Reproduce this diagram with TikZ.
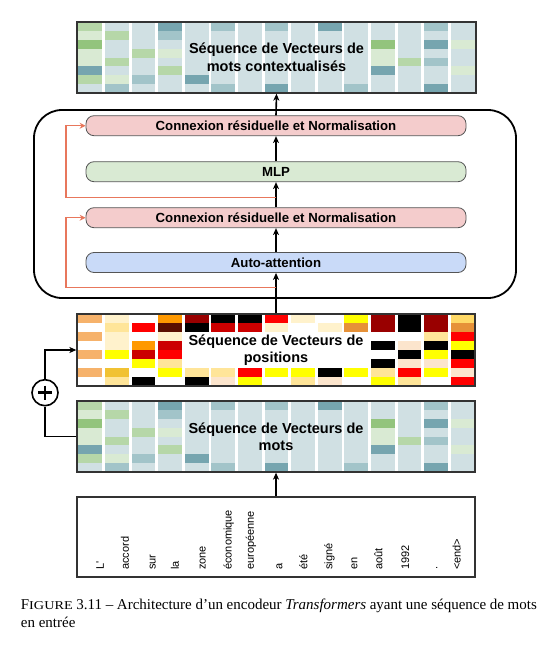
\documentclass[tikz,border=0pt]{standalone}
\usepackage{fontspec}
\setmainfont{Liberation Serif}
\newfontfamily\diagfont{Liberation Sans}
\usetikzlibrary{arrows.meta,calc}
\definecolor{cB}{HTML}{D0E0E3}
\definecolor{cLG}{HTML}{D9EAD3}
\definecolor{cG}{HTML}{B6D7A8}
\definecolor{cDG}{HTML}{93C47D}
\definecolor{cT}{HTML}{76A5AF}
\definecolor{cLT}{HTML}{A2C4C9}
\definecolor{pO}{HTML}{F6B26B}
\definecolor{pLY}{HTML}{FFF2CC}
\definecolor{pPY}{HTML}{FFE599}
\definecolor{pGO}{HTML}{FFD966}
\definecolor{pGY}{HTML}{F1C232}
\definecolor{pY}{HTML}{FFFF00}
\definecolor{pR}{HTML}{FF0000}
\definecolor{pDR}{HTML}{CC0000}
\definecolor{pMR}{HTML}{990000}
\definecolor{pBR}{HTML}{5B0F00}
\definecolor{pOR}{HTML}{FF9900}
\definecolor{pDO}{HTML}{E69138}
\definecolor{pPE}{HTML}{FCE5CD}
\definecolor{pK}{HTML}{000000}
\definecolor{pW}{HTML}{FFFFFF}
\definecolor{cRes}{HTML}{E8775C}
\definecolor{cPink}{HTML}{F4CCCC}
\definecolor{cMint}{HTML}{D9EAD3}
\definecolor{cBlue}{HTML}{C9DAF8}
\definecolor{cGray}{HTML}{555555}
\definecolor{cDark}{HTML}{333333}
\newcommand{\mycells}[3]{%
  \foreach \colspec [count=\i] in #3 {
    \foreach \cc [count=\r] in \colspec {
      \fill[\cc] ({78.3+26.6*(\i-1)}, {#1+(\r-1)*(#2-#1)/8}) rectangle ++(23.8, {(#2-#1)/8+0.2});
    }
  }%
}
\newcommand{\wordpattern}{%
  {cG,cLG,cDG,cLG,cLG,cT,cG,cB},
  {cB,cG,cB,cB,cG,cB,cLG,cLT},
  {cB,cB,cB,cG,cB,cB,cLT,cB},
  {cT,cLT,cB,cLG,cB,cG,cB,cB},
  {cB,cB,cB,cB,cB,cB,cT,cB},
  {cLT,cB,cB,cB,cB,cB,cB,cLT},
  {cB,cB,cB,cB,cB,cB,cB,cB},
  {cLT,cB,cB,cB,cB,cB,cB,cT},
  {cB,cB,cB,cB,cB,cB,cB,cB},
  {cT,cB,cB,cB,cB,cB,cB,cB},
  {cB,cB,cB,cB,cB,cB,cB,cLT},
  {cB,cB,cDG,cLG,cLG,cT,cB,cB},
  {cB,cB,cB,cB,cG,cB,cB,cB},
  {cLT,cB,cT,cB,cLT,cB,cB,cT},
  {cB,cB,cLG,cB,cB,cLG,cB,cB}}
\newcommand{\pospattern}{%
  {pO,pW,pO,pW,pO,pW,pO,pW},
  {pLY,pPY,pLY,pLY,pY,pW,pGY,pPY},
  {pW,pR,pW,pOR,pDR,pY,pW,pK},
  {pOR,pBR,pLY,pDR,pR,pPY,pY,pW},
  {pMR,pK,pW,pW,pW,pW,pPY,pK},
  {pK,pDR,pW,pW,pW,pW,pPY,pPE},
  {pK,pDR,pW,pW,pW,pW,pR,pY},
  {pR,pLY,pW,pW,pW,pW,pY,pW},
  {pLY,pW,pW,pW,pW,pW,pY,pPY},
  {pW,pLY,pW,pW,pW,pW,pK,pPE},
  {pY,pDO,pW,pW,pW,pW,pY,pW},
  {pMR,pMR,pW,pK,pW,pK,pPY,pY},
  {pK,pK,pW,pPE,pK,pPE,pR,pPY},
  {pMR,pMR,pPY,pK,pY,pPE,pY,pW},
  {pGO,pDO,pR,pY,pK,pR,pPE,pR}}
\begin{document}
\begin{tikzpicture}[x=1pt,y=-1pt,
  arr/.style={line width=1.6pt,-{Stealth[length=7pt,width=6pt,inset=2pt]}},
  res/.style={draw=cRes,line width=1.5pt,-{Stealth[length=6pt,width=6pt,inset=2pt]}},
  link/.style={line width=1.6pt},
  layer/.style={draw=cGray,line width=0.8pt,rounded corners=8pt,minimum width=380pt,
    minimum height=20pt,inner sep=0pt,font=\diagfont\bfseries\fontsize{13.2}{15}\selectfont},
  seqbox/.style={draw=cDark,line width=1.3pt,inner sep=0pt,align=center,
    font=\diagfont\bfseries\fontsize{14.5}{17.5}\selectfont},
  word/.style={inner sep=0pt,rotate=90,anchor=mid west,font=\diagfont\fontsize{11}{12}\selectfont},
  captxt/.style={inner sep=0pt,anchor=base west,font=\fontsize{15}{17}\selectfont}]
\useasboundingbox (0,0) rectangle (549,645);
\fill[white] (0,0) rectangle (549,645);
% contextual vectors
\foreach \i in {1,...,15} {\fill[cB] ({78.3+26.6*(\i-1)},22) rectangle ++(23.8,71);}
\mycells{22}{93}\wordpattern
\node[seqbox,minimum width=399pt,minimum height=71pt] (ctx) at (276.5,57.5)
  {Séquence de Vecteurs de\\mots contextualisés};
% encoder block
\node[draw,line width=1.8pt,rounded corners=28pt,minimum width=482pt,minimum height=188pt] (enc) at (275,204) {};
\node[layer,fill=cPink] (cn1) at (276,125.7) {Connexion résiduelle et Normalisation};
\node[layer,fill=cMint] (mlp) at (276,171.7) {MLP};
\node[layer,fill=cPink] (cn2) at (276,217.7) {Connexion résiduelle et Normalisation};
\node[layer,fill=cBlue] (att) at (276,262.5) {Auto-attention};
% positions
\mycells{314}{386}\pospattern
\node[seqbox,minimum width=398pt,minimum height=72pt] (pos) at (276,350)
  {Séquence de Vecteurs de\\positions};
% word vectors
\foreach \i in {1,...,15} {\fill[cB] ({78.3+26.6*(\i-1)},401) rectangle ++(23.8,71);}
\mycells{401}{472}\wordpattern
\node[seqbox,minimum width=398pt,minimum height=71pt] (mots) at (276,436.5)
  {Séquence de Vecteurs de\\mots};
% words
\node[draw=cDark,line width=1.1pt,minimum width=398pt,minimum height=80pt,inner sep=0pt] (words) at (276,537) {};
\node[word] (w1) at (101.7,570) {L\textquotesingle};
\node[word] (w2) at (126.7,570) {accord};
\node[word] (w3) at (153.3,570) {sur};
\node[word] (w4) at (176.7,570) {la};
\node[word] (w5) at (203.3,570) {zone};
\node[word] (w6) at (229.3,570) {économique};
\node[word] (w7) at (251.7,570) {européenne};
\node[word] (w8) at (280,570) {a};
\node[word] (w9) at (305,570) {été};
\node[word] (w10) at (330,570) {signé};
\node[word] (w11) at (355,570) {en};
\node[word] (w12) at (380,570) {août};
\node[word] (w13) at (406.7,570) {1992};
\node[word] (w14) at (435,570) {.};
\node[word] (w15) at (458.3,570) {<end>};
% plus
\node[draw,circle,line width=1.6pt,minimum size=26pt,inner sep=0pt] (plus) at (45,392.7) {};
\draw[line width=2.8pt] ($(plus.center)+(-7,0)$) -- ($(plus.center)+(7,0)$);
\draw[line width=2.8pt] ($(plus.center)+(0,-7)$) -- ($(plus.center)+(0,7)$);
% connectors
\draw[arr] (words.north) -- (mots.south);
\draw[link] (mots.west) -| (plus.south);
\draw[arr] (plus.north) |- (pos.west);
\draw[arr] (pos.north) -- (att.south);
\draw[arr] (att.north) -- (cn2.south);
\draw[arr] (cn2.north) -- (mlp.south);
\draw[arr] (mlp.north) -- (cn1.south);
\draw[arr] (cn1.north) -- (ctx.south);
\coordinate (r1) at (276,287.7);
\coordinate (r2) at (276,197.7);
\draw[res] (r1) -- ++(-210,0) |- (cn2.west);
\draw[res] (r2) -- ++(-210,0) |- (cn1.west);
% caption
\node[captxt] (cap1) at (20.7,609.5) {\makebox[516pt][s]{F\scalebox{0.95}[0.8]{IGURE} 3.11 – Architecture d’un encodeur \textit{Transformers} ayant une séquence de mots}};
\node[captxt] (cap2) at (20.7,627.5) {en entrée};
\end{tikzpicture}
\end{document}
